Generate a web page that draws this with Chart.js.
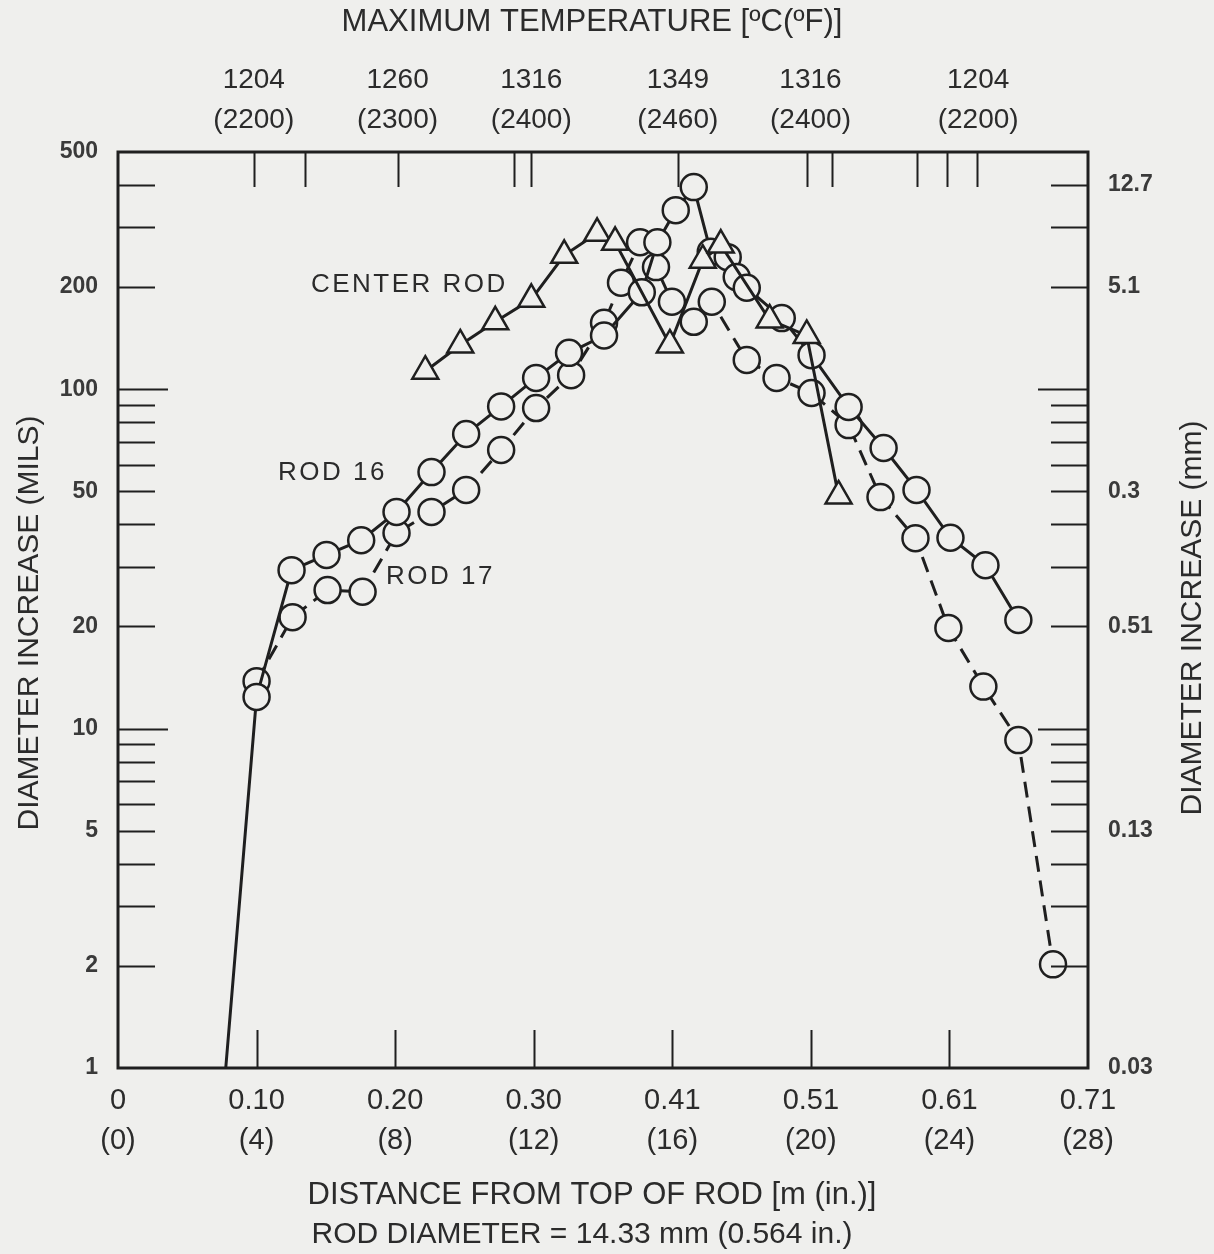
<!DOCTYPE html>
<html>
<head>
<meta charset="utf-8">
<script src="https://cdn.jsdelivr.net/npm/chart.js@4.4.1/dist/chart.umd.min.js"></script>
<style>
  html, body { margin: 0; padding: 0; background: #efefed; }
</style>
</head>
<body>
<canvas id="grafico" width="1214" height="1254"></canvas>
<script>
// distancia desde el tope de la barra (pulgadas) y aumento de diametro (mils)
const centerX = [8.87, 9.88, 10.89, 11.93, 12.88, 13.83, 14.35, 15.93, 16.88, 17.40, 18.81, 19.88, 20.80];
const centerY = [113, 135, 158, 184, 248, 288, 271, 135, 240, 266, 160, 144, 48.5];

const rod16X = [3.11, 4.0, 5.01, 6.02, 7.02, 8.04, 9.05, 10.05, 11.06, 12.07, 13.02, 14.03, 15.12, 15.57, 16.10, 16.62, 17.11, 17.60, 17.86, 18.15, 19.16, 20.02, 21.09, 22.10, 23.05, 24.03, 25.04, 25.99];
const rod16Y = [1, 12.4, 29.3, 32.5, 35.9, 43.5, 57, 73.8, 89, 108, 128, 144, 193, 271, 337, 394, 254, 245, 214, 199, 162, 126, 88.7, 67.1, 50.5, 36.5, 30.3, 20.9];

const rod17X = [4.0, 5.04, 6.05, 7.06, 8.04, 9.05, 10.05, 11.06, 12.07, 13.08, 14.03, 14.52, 15.07, 15.53, 15.99, 16.62, 17.14, 18.15, 19.01, 20.02, 21.09, 22.01, 23.02, 23.97, 24.98, 25.99, 26.99];
const rod17Y = [13.8, 21.3, 25.6, 25.3, 37.7, 43.5, 50.5, 66.2, 88, 110, 157, 206, 271, 229, 181, 158, 181, 122, 108, 97.5, 78.4, 48.1, 36.4, 19.8, 13.3, 9.25, 2.02];

// ejes
const xTicksIn = [0, 4, 8, 12, 16, 20, 24, 28];
const xTicksM = ['0', '0.10', '0.20', '0.30', '0.41', '0.51', '0.61', '0.71'];
const yTicks = [1, 2, 5, 10, 20, 50, 100, 200, 500];
const yMinor = [2, 3, 4, 5, 6, 7, 8, 9, 10, 20, 30, 40, 50, 60, 70, 80, 90, 100, 200, 300, 400];
const mmTicks = [1, 5, 20, 50, 200, 400];
const mmLabels = ['0.03', '0.13', '0.51', '0.3', '5.1', '12.7'];
const tempTicks = [3.92, 5.39, 8.07, 11.44, 11.93, 16.16, 19.90, 20.60, 23.05, 23.94, 24.80];
const tempPos = [3.92, 8.07, 11.93, 16.16, 19.99, 24.83];
const tempC = ['1204', '1260', '1316', '1349', '1316', '1204'];
const tempF = ['(2200)', '(2300)', '(2400)', '(2460)', '(2400)', '(2200)'];

const fondo = '#efefed';
const tinta = '#1f1f1f';
const sans = '"Liberation Sans", sans-serif';

function puntos(xs, ys) {
  return xs.map((x, i) => ({ x: x, y: ys[i] }));
}

// marcas interiores, marco y titulos
const decoracion = {
  id: 'decoracion',
  beforeDraw(chart) {
    const ctx = chart.ctx;
    ctx.save();
    ctx.fillStyle = fondo;
    ctx.fillRect(0, 0, chart.width, chart.height);
    ctx.restore();
  },
  afterDraw(chart) {
    const ctx = chart.ctx;
    const a = chart.chartArea;
    const y = chart.scales.y;
    const xb = chart.scales.x;
    const xt = chart.scales.xTop;
    ctx.save();
    ctx.strokeStyle = tinta;
    ctx.lineWidth = 3;
    ctx.strokeRect(a.left, a.top, a.right - a.left, a.bottom - a.top);

    ctx.lineWidth = 2;
    ctx.beginPath();
    yMinor.forEach(v => {
      const py = Math.round(y.getPixelForValue(v)) + 0.5;
      const len = (v === 10 || v === 100) ? 50 : 37;
      ctx.moveTo(a.left, py); ctx.lineTo(a.left + len, py);
      ctx.moveTo(a.right, py); ctx.lineTo(a.right - len, py);
    });
    xTicksIn.slice(1, -1).forEach(v => {
      const px = Math.round(xb.getPixelForValue(v)) + 0.5;
      ctx.moveTo(px, a.bottom); ctx.lineTo(px, a.bottom - 38);
    });
    tempTicks.forEach(v => {
      const px = Math.round(xt.getPixelForValue(v)) + 0.5;
      ctx.moveTo(px, a.top); ctx.lineTo(px, a.top + 35);
    });
    ctx.stroke();

    ctx.fillStyle = '#2b2b2b';
    ctx.textAlign = 'center';
    ctx.textBaseline = 'middle';
    ctx.font = '31px ' + sans;
    ctx.fillText('MAXIMUM TEMPERATURE [\u00BAC(\u00BAF)]', 592, 22);
    ctx.fillText('DISTANCE FROM TOP OF ROD [m (in.)]', 592, 1195);
    ctx.font = '30px ' + sans;
    ctx.fillText('ROD DIAMETER = 14.33 mm (0.564 in.)', 582, 1235);

    ctx.save();
    ctx.translate(30, 623);
    ctx.rotate(-Math.PI / 2);
    ctx.fillText('DIAMETER INCREASE (MILS)', 0, 0);
    ctx.restore();
    ctx.save();
    ctx.translate(1193, 618);
    ctx.rotate(-Math.PI / 2);
    ctx.fillText('DIAMETER INCREASE (mm)', 0, 0);
    ctx.restore();

    ctx.font = '26px ' + sans;
    ctx.letterSpacing = '2.5px';
    ctx.fillText('CENTER ROD', xb.getPixelForValue(8.41), y.getPixelForValue(203));
    ctx.fillText('ROD 16', xb.getPixelForValue(6.19), y.getPixelForValue(56.6));
    ctx.fillText('ROD 17', xb.getPixelForValue(9.31), y.getPixelForValue(28));
    ctx.restore();
  }
};

new Chart(document.getElementById('grafico'), {
  type: 'scatter',
  data: {
    datasets: [
      {
        label: 'Center rod',
        data: puntos(centerX, centerY),
        showLine: true,
        borderColor: tinta,
        borderWidth: 3,
        pointStyle: 'triangle',
        pointRadius: 15,
        pointBorderWidth: 2.5,
        pointBorderColor: tinta,
        pointBackgroundColor: fondo
      },
      {
        label: 'Rod 16',
        data: puntos(rod16X, rod16Y),
        showLine: true,
        borderColor: tinta,
        borderWidth: 3,
        pointRadius: rod16X.map((x, i) => i === 0 ? 0 : 13),
        pointBorderWidth: 2.5,
        pointBorderColor: tinta,
        pointBackgroundColor: fondo
      },
      {
        label: 'Rod 17',
        data: puntos(rod17X, rod17Y),
        showLine: true,
        borderColor: tinta,
        borderWidth: 3,
        borderDash: [16, 9],
        pointRadius: 13,
        pointBorderWidth: 2.5,
        pointBorderColor: tinta,
        pointBackgroundColor: fondo
      }
    ]
  },
  options: {
    responsive: false,
    animation: false,
    layout: { padding: 0 },
    plugins: { legend: { display: false }, tooltip: { enabled: false } },
    scales: {
      x: {
        type: 'linear', position: 'bottom', min: 0, max: 28,
        afterFit: s => { s.height = 186; },
        afterBuildTicks: s => { s.ticks = xTicksIn.map(v => ({ value: v })); },
        grid: { display: false, drawTicks: false },
        border: { display: false },
        ticks: {
          padding: 13,
          color: '#2b2b2b',
          font: { family: sans, size: 29, lineHeight: 1.38 },
          maxRotation: 0,
          callback: v => [xTicksM[xTicksIn.indexOf(v)], '(' + v + ')']
        }
      },
      xTop: {
        type: 'linear', position: 'top', min: 0, max: 28,
        afterFit: s => { s.height = 152; },
        afterBuildTicks: s => { s.ticks = tempPos.map(v => ({ value: v })); },
        grid: { display: false, drawTicks: false },
        border: { display: false },
        ticks: {
          padding: 11,
          color: '#2b2b2b',
          font: { family: sans, size: 28, lineHeight: 1.45 },
          maxRotation: 0,
          callback: (v, i) => [tempC[i], tempF[i]]
        }
      },
      y: {
        type: 'logarithmic', position: 'left', min: 1, max: 500,
        afterFit: s => { s.width = 118; },
        afterBuildTicks: s => { s.ticks = yTicks.map(v => ({ value: v })); },
        grid: { display: false, drawTicks: false },
        border: { display: false },
        ticks: {
          padding: 20,
          color: '#3a3a3a',
          font: { family: sans, size: 23, weight: 'bold' },
          callback: v => String(v)
        }
      },
      yRight: {
        type: 'logarithmic', position: 'right', min: 1, max: 500,
        afterFit: s => { s.width = 126; },
        afterBuildTicks: s => { s.ticks = mmTicks.map(v => ({ value: v })); },
        grid: { display: false, drawTicks: false },
        border: { display: false },
        ticks: {
          padding: 20,
          color: '#3a3a3a',
          font: { family: sans, size: 23, weight: 'bold' },
          callback: v => mmLabels[mmTicks.indexOf(v)]
        }
      }
    }
  },
  plugins: [decoracion]
});
</script>
</body>
</html>
